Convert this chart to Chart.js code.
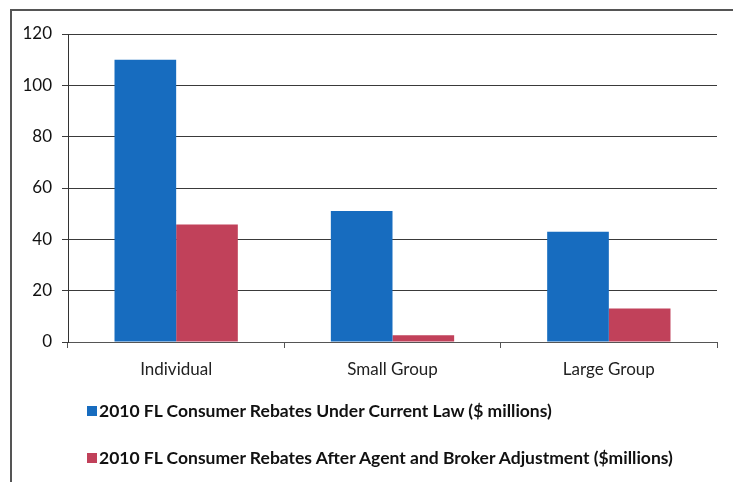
<!DOCTYPE html>
<html>
<head>
<meta charset="utf-8">
<script src="https://cdn.jsdelivr.net/npm/chart.js@4.4.1/dist/chart.umd.min.js"></script>
<style>
	body { margin: 0; background: #fff; width: 733px; height: 482px; overflow: hidden; position: relative; font-family: Lato, "Noto Sans", sans-serif; }
	#wrap { position: absolute; left: 0; top: 0; width: 733px; height: 400px; }
	.frame { position: absolute; left: 10px; top: 9px; width: 740px; height: 480px; border-left: 2px solid #555; border-top: 2px solid #555; pointer-events: none; }
	.legend { position: absolute; left: 87px; top: 0; }
	.legend .item { position: absolute; left: 0; white-space: nowrap; font-weight: bold; font-size: 17.5px; color: #111; line-height: 22px; }
	.legend .box { display: inline-block; width: 10px; height: 10px; margin-right: 2px; vertical-align: 1px; }
</style>
</head>
<body>
<div id="wrap"><canvas id="myChart"></canvas></div>
<div class="frame"></div>
<div class="legend" id="legend"></div>
<script>
// Chart data
const categories = ["Individual", "Small Group", "Large Group"];
const seriesNames = [
	"2010 FL Consumer Rebates Under Current Law ($ millions)",
	"2010 FL Consumer Rebates After Agent and Broker Adjustment ($millions)",
];
const currentLaw = [110, 51, 43];
const afterAdjustment = [45.8, 2.6, 13.1];
const seriesColors = ["#176cbf", "#c1415a"];
const yTicks = [0, 20, 40, 60, 80, 100, 120];

document.addEventListener("DOMContentLoaded", function () {
	const data = {
		labels: categories,
		datasets: [
			{ label: seriesNames[0], data: currentLaw, backgroundColor: seriesColors[0] },
			{ label: seriesNames[1], data: afterAdjustment, backgroundColor: seriesColors[1] },
		],
	};

	const config = {
		type: "bar",
		data: data,
		options: {
			responsive: false,
			animation: false,
			layout: { padding: { left: 12, right: 16, top: 34, bottom: 0 } },
			datasets: { bar: { categoryPercentage: 0.57, barPercentage: 1 } },
			plugins: { legend: { display: false }, tooltip: { enabled: false } },
			scales: {
				x: {
					afterFit: (scale) => { scale.height = 58; },
					grid: { drawOnChartArea: false, color: "#555", tickLength: 6, offset: true },
					border: { color: "#555" },
					ticks: { color: "#222", font: { family: "Lato", size: 17 }, padding: 11 },
				},
				y: {
					min: 0,
					max: 120,
					afterFit: (scale) => { scale.width = 56; },
					afterBuildTicks: (scale) => { scale.ticks = yTicks.map((v) => ({ value: v })); },
					grid: { color: "#3a3a3a", tickLength: 6 },
					border: { color: "#333" },
					ticks: { color: "#111", font: { family: "Lato", size: 17 }, padding: 10 },
				},
			},
		},
	};

	const canvas = document.getElementById("myChart");
	canvas.width = 733;
	canvas.height = 400;
	new Chart(canvas, config);

	// Legend (two rows, left aligned)
	const legend = document.getElementById("legend");
	const rowTops = [400, 447];
	seriesNames.forEach((name, i) => {
		const item = document.createElement("div");
		item.className = "item";
		item.style.top = rowTops[i] + "px";
		item.innerHTML = '<span class="box" style="background:' + seriesColors[i] + '"></span>';
		item.appendChild(document.createTextNode(name));
		legend.appendChild(item);
	});
});
</script>
</body>
</html>
